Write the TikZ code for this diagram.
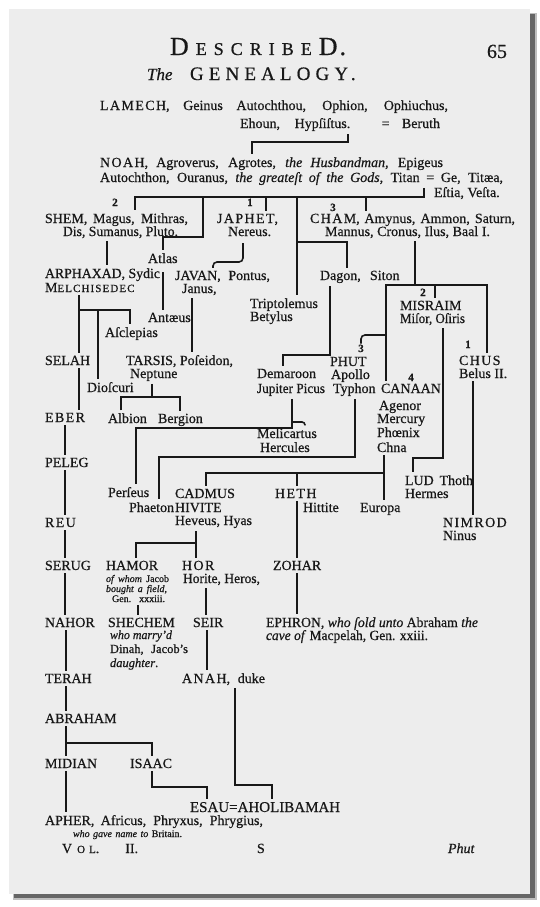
\documentclass[tikz,border=0pt]{standalone}
\usepackage{fontspec}
\setmainfont{Liberation Serif}[FakeBold=0.6]
\newfontfamily\spacedfont{Liberation Serif}[LetterSpace=27,FakeBold=0.6]
\newfontfamily\namefont{Liberation Serif}[LetterSpace=10,FakeBold=0.6]
\usetikzlibrary{calc}
\definecolor{paper}{RGB}{237,237,237}
\definecolor{ink}{RGB}{24,24,24}
\newcommand{\wide}[1]{{\namefont #1}}
\newcommand{\smcap}[1]{{\fontsize{11}{11}\selectfont #1}}
\newlength{\fitlen}
\newcommand{\fitw}[2]{\settowidth{\fitlen}{#2}\ifdim\fitlen<#1\makebox[#1][s]{#2}\else\resizebox{#1}{\height}{#2}\fi}
\newcommand{\hgap}{\hspace{7pt}}
\tikzset{
  entry/.style={anchor=base west, inner sep=0pt, outer xsep=0pt, outer ysep=3pt, text=ink, font=\fontsize{14}{16}\selectfont},
  aside/.style={entry, font=\fontsize{12.5}{14}\selectfont},
  gloss/.style={entry, font=\fontsize{10}{12}\selectfont},
  numeral/.style={anchor=base, inner sep=0pt, outer sep=1pt, text=ink, font=\fontsize{11}{11}\selectfont\bfseries},
  kin/.style={draw=ink, line width=1.6pt},
}
\begin{document}
\begin{tikzpicture}[x=1pt, y=-1pt]
	  \useasboundingbox (0,0) rectangle (540,907);
	  \fill[white] (0,0) rectangle (540,907);
	  \fill[black!25] (13,13) rectangle (537,900);
	  \fill[black!60] (14,14) rectangle (535,898);
	  \fill[paper] (9,9) rectangle (530,894);

	  \node[entry, font=\fontsize{18}{18}\selectfont] (described) at (170,55) {{\fontsize{26}{26}\selectfont D}\hgap E\hgap S\hgap C\hgap R\hgap I\hgap B\hgap E\hgap{\fontsize{26}{26}\selectfont D\hspace{2pt}.}};
	  \node[entry, font=\fontsize{20}{20}\selectfont] (folio) at (487,58) {65};
	  \node[entry, font=\fontsize{17}{17}\selectfont\itshape] (the) at (147,80) {The};
	  \node[entry, font=\fontsize{19}{19}\selectfont] (genealogy) at (190,80) {\spacedfont GENEALOGY.};

	  \node[entry] (lamech) at (100,110) {\fitw{348pt}{\wide{LAMECH}, Geinus Autochthou, Ophion, Ophiuchus,}};
	  \node[entry] (lamechalt) at (240,128) {\fitw{200pt}{Ehoun, Hypſiſtus. = Beruth}};
	  \node[entry] (noah) at (100,167) {\fitw{343pt}{\wide{NOAH}, Agroverus, Agrotes, \textit{the Husbandman}, Epigeus}};
	  \node[entry] (noahalt) at (100,182) {\fitw{403pt}{Autochthon, Ouranus, \textit{the greateſt of the Gods}, Titan = Ge, Titæa,}};
	  \node[entry] (noahend) at (434,197) {Eſtia, Veſta.};

	  \node[numeral] (shemnum) at (115,206) {2};
	  \node[numeral] (japhetnum) at (250,206) {1};
	  \node[numeral] (chamnum) at (333,211) {3};
	  \node[entry] (shem) at (45,223) {\fitw{143pt}{SHEM, Magus, Mithras,}};
	  \node[entry] (shemalt) at (63,236) {\fitw{115pt}{Dis, Sumanus, Pluto.}};
	  \node[entry] (japhet) at (217,223) {\wide{JAPHET},};
	  \node[entry] (japhetalt) at (228,236) {Nereus.};
	  \node[entry] (cham) at (310,223) {\fitw{205pt}{\wide{CHAM}, Amynus, Ammon, Saturn,}};
	  \node[entry] (chamalt) at (325,236) {\fitw{165pt}{Mannus, Cronus, Ilus, Baal I.}};

	  \node[entry] (atlas) at (148,263) {Atlas};
	  \node[entry] (arphaxad) at (45,278) {\fitw{115pt}{ARPHAXAD, Sydic}};
	  \node[entry] (melchisedec) at (45,292) {\wide{M\smcap{ELCHISEDEC}}};
	  \node[entry] (javan) at (175,280) {\fitw{95pt}{JAVAN, Pontus,}};
	  \node[entry] (javanalt) at (182,293) {Janus,};
	  \node[entry] (dagon) at (320,280) {Dagon,};
	  \node[entry] (siton) at (370,280) {Siton};
	  \node[numeral] (misraimnum) at (423,296) {2};
	  \node[entry] (triptolemus) at (250,308) {Triptolemus};
	  \node[entry] (betylus) at (250,321) {Betylus};
	  \node[entry] (misraim) at (400,310) {MISRAIM};
	  \node[entry] (misraimalt) at (400,323) {\fitw{65pt}{Miſor, Oſiris}};
	  \node[entry] (antaeus) at (148,322) {Antæus};
	  \node[entry] (asclepias) at (105,337) {Aſclepias};

	  \node[numeral] (phutnum) at (361,352) {3};
	  \node[numeral] (chusnum) at (468,348) {1};
	  \node[numeral] (canaannum) at (411,381) {4};
	  \node[entry] (selah) at (45,365) {SELAH};
	  \node[entry] (tarsis) at (126,365) {\fitw{107pt}{TARSIS, Poſeidon,}};
	  \node[entry] (tarsisalt) at (130,378) {Neptune};
	  \node[entry] (phut) at (330,366) {PHUT};
	  \node[entry] (apollo) at (331,379) {Apollo};
	  \node[entry] (typhon) at (333,393) {Typhon};
	  \node[entry] (demaroon) at (257,378) {Demaroon};
	  \node[entry] (jupiter) at (257,393) {\fitw{68pt}{Jupiter Picus}};
	  \node[entry] (canaan) at (381,393) {CANAAN};
	  \node[entry] (chus) at (459,365) {\wide{CHUS}};
	  \node[entry] (chusalt) at (459,378) {Belus II.};
	  \node[entry] (dioscuri) at (87,392) {Dioſcuri};

	  \node[entry] (agenor) at (379,410) {Agenor};
	  \node[entry] (mercury) at (377,423) {Mercury};
	  \node[entry] (phoenix) at (377,437) {Phœnix};
	  \node[entry] (chna) at (377,452) {Chna};
	  \node[entry] (eber) at (45,422) {\wide{EBER}};
	  \node[entry] (albion) at (108,423) {Albion};
	  \node[entry] (bergion) at (158,423) {Bergion};
	  \node[entry] (melicartus) at (257,438) {Melicartus};
	  \node[entry] (hercules) at (260,452) {Hercules};
	  \node[entry] (peleg) at (45,467) {PELEG};
	  \node[entry] (lud) at (405,485) {\fitw{68pt}{LUD Thoth}};
	  \node[entry] (hermes) at (405,498) {Hermes};

	  \node[entry] (perseus) at (108,497) {Perſeus};
	  \node[entry] (cadmus) at (175,498) {CADMUS};
	  \node[entry] (heth) at (275,498) {\wide{HETH}};
	  \node[entry] (phaeton) at (129,512) {Phaeton};
	  \node[entry] (hivite) at (175,512) {HIVITE};
	  \node[entry] (hittite) at (303,512) {Hittite};
	  \node[entry] (europa) at (360,512) {Europa};
	  \node[entry] (reu) at (45,527) {\wide{REU}};
	  \node[entry] (hivitealt) at (175,525) {\fitw{77pt}{Heveus, Hyas}};
	  \node[entry] (nimrod) at (443,527) {\wide{NIMROD}};
	  \node[entry] (ninus) at (443,540) {Ninus};

	  \node[entry] (serug) at (45,570) {SERUG};
	  \node[entry] (hamor) at (106,570) {HAMOR};
	  \node[entry] (hor) at (182,570) {\wide{HOR}};
	  \node[entry] (zohar) at (273,570) {ZOHAR};
	  \node[gloss] (hamornote) at (106,582) {\fitw{63pt}{\textit{of whom} Jacob}};
	  \node[gloss] (hamornotealt) at (106,592) {\fitw{61pt}{\textit{bought a field},}};
	  \node[gloss] (hamorref) at (112,602) {\fitw{53pt}{Gen. xxxiii.}};
	  \node[entry] (horalt) at (183,583) {\fitw{77pt}{Horite, Heros,}};

	  \node[entry] (nahor) at (45,627) {NAHOR};
	  \node[entry] (shechem) at (108,627) {SHECHEM};
	  \node[entry] (seir) at (193,627) {SEIR};
	  \node[entry] (ephron) at (266,627) {\fitw{212pt}{EPHRON, \textit{who ſold unto} Abraham \textit{the}}};
	  \node[entry] (ephronalt) at (266,640) {\fitw{162pt}{\textit{cave of} Macpelah, Gen. xxiii.}};
	  \node[aside] (shechemnote) at (110,639) {\fitw{62pt}{\textit{who marry'd}}};
	  \node[aside] (shechemnotealt) at (110,653) {\fitw{78pt}{Dinah, Jacob's}};
	  \node[aside] (shechemnoteend) at (110,667) {\textit{daughter}.};

	  \node[entry] (terah) at (45,683) {TERAH};
	  \node[entry] (anah) at (182,683) {\fitw{83pt}{\wide{ANAH}, duke}};
	  \node[entry] (abraham) at (45,723) {ABRAHAM};
	  \node[entry] (midian) at (45,768) {MIDIAN};
	  \node[entry] (isaac) at (130,768) {ISAAC};
	  \node[entry, font=\fontsize{15}{17}\selectfont] (esau) at (190,812) {ESAU=AHOLIBAMAH};
	  \node[entry] (apher) at (45,825) {\fitw{218pt}{APHER, Africus, Phryxus, Phrygius,}};
	  \node[gloss] (apheralt) at (73,837) {\fitw{109pt}{\textit{who gave name to} Britain.}};

	  \node[entry] (volume) at (62,853) {V\hspace{5pt}\smcap{O}\hspace{4pt}\smcap{L}.\hspace{26pt}II.};
	  \node[entry] (signature) at (257,853) {S};
	  \node[entry] (catchword) at (448,853) {\textit{Phut}};

	  \draw[kin] (lamechalt.south -| 348,0) |- (252,142) -- (noah.north -| 252,0);
	  \draw[kin] (noahalt.south -| 424,0) |- (135,197) -- (shem.north -| 135,0);
	  \draw[kin] (203,197) |- ($(atlas.north)+(0,-13)$) -- (atlas.north);
	  \draw[kin] (266,197) -- (japhet.north -| 266,0);
	  \draw[kin] (297,197) -- (triptolemus.north -| 297,0);
	  \draw[kin] (297,242) -| (dagon.north -| 347,0);
	  \draw[kin] (366,197) -- (cham.north -| 366,0);

	  \draw[kin] (shemalt.south -| 107,0) -- (arphaxad.north -| 107,0);
	  \draw[kin] ($(atlas.south)+(0,6)$) -- (antaeus.north -| atlas.south);
	  \draw[kin, rounded corners=4pt] ($(japhetalt.south -| 243,0)+(0,4)$) |- (213,262) -- (javan.north -| 213,0);
	  \draw[kin] (melchisedec.south -| 79,0) -- (selah.north -| 79,0);
	  \draw[kin] (79,310) -| (asclepias.north -| 130,0);
	  \draw[kin] (98,310) -- (dioscuri.north -| 98,0);
	  \draw[kin] (javanalt.south -| 192,0) -- (tarsis.north -| 192,0);

	  \draw[kin] (chamalt.south -| 415,0) -- (415,285);
	  \draw[kin] (canaan.north -| 386,0) |- (487,285) -- (chus.north -| 487,0);
	  \draw[kin] (435,285) -- (misraim.north -| 435,0);
	  \draw[kin] (misraimalt.south -| 443,0) |- (413,458) -- (lud.north -| 413,0);
	  \draw[kin, rounded corners=4pt] (386,335) -| (phutnum.north);
	  \draw[kin] (dagon.south -| 330,0) |- (283,355) -- (demaroon.north -| 283,0);
	  \draw[kin] (chusalt.south -| 473,0) -- (nimrod.north -| 473,0);

	  \draw[kin] (tarsisalt.south -| 152,0) -- (152,397);
	  \draw[kin] (albion.north -| 121,0) |- (152,397) -| (bergion.north -| 180,0);
	  \draw[kin] (typhon.south -| 355,0) |- (159,457) -- (phaeton.north -| 159,0);
	  \draw[kin] (jupiter.south -| 292,0) |- (136,428) -- (perseus.north -| 136,0);
	  \draw[kin, rounded corners=3pt] (292,422) -| (melicartus.north -| 305,0);
	  \draw[kin] (chna.south -| 384,0) -- (europa.north -| 384,0);
	  \draw[kin] (cadmus.north -| 206,0) |- (384,473);
	  \draw[kin] (297,473) -- (heth.north -| 297,0);

	  \draw[kin] (selah.south -| 79,0) -- (eber.north -| 79,0);
	  \draw[kin] (eber.south -| 65,0) -- (peleg.north -| 65,0);
	  \draw[kin] (peleg.south -| 65,0) -- (reu.north -| 65,0);
	  \draw[kin] (reu.south -| 65,0) -- (serug.north -| 65,0);
	  \draw[kin] (serug.south -| 65,0) -- (nahor.north -| 65,0);
	  \draw[kin] (nahor.south -| 66,0) -- (terah.north -| 66,0);
	  \draw[kin] (terah.south -| 66,0) -- (abraham.north -| 66,0);
	  \draw[kin] (abraham.south -| 66,0) -- (midian.north -| 66,0);
	  \draw[kin] (66,743) -| (isaac.north -| 152,0);
	  \draw[kin] (midian.south -| 66,0) -- (apher.north -| 66,0);

	  \draw[kin] (heth.south -| 297,0) -- (zohar.north -| 297,0);
	  \draw[kin] (zohar.south -| 297,0) -- (ephron.north -| 297,0);
	  \draw[kin] (hivitealt.south -| 196,0) -- (hor.north -| 196,0);
	  \draw[kin] (196,543) -| (hamor.north -| 136,0);
	  \draw[kin] (hamorref.south -| 138,0) -- (shechem.north -| 138,0);
	  \draw[kin] (horalt.south -| 206,0) -- (seir.north -| 206,0);
	  \draw[kin] (seir.south -| 207,0) -- (anah.north -| 207,0);
	  \draw[kin] (anah.south -| 235,0) |- (272,785) -- (esau.north -| 272,0);
	  \draw[kin] (isaac.south -| 152,0) |- (207,787) -- (esau.north -| 207,0);
	\end{tikzpicture}
\end{document}
